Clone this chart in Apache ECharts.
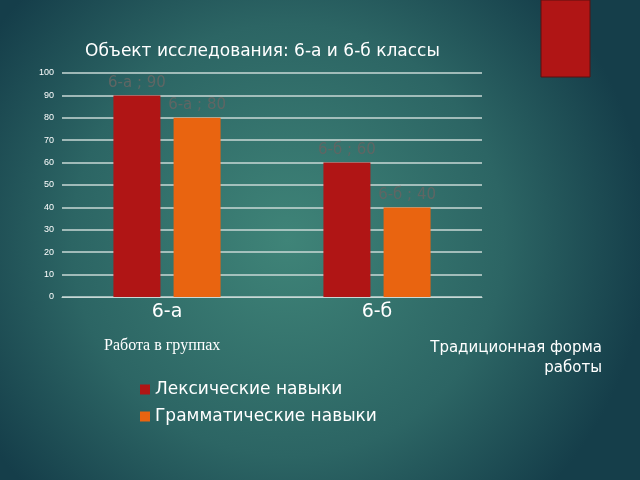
<!DOCTYPE html>
<html>
<head>
<meta charset="utf-8">
<script src="https://cdn.jsdelivr.net/npm/echarts@6/dist/echarts.min.js"></script>
<style>
  html, body { margin: 0; padding: 0; }
  #chart { width: 640px; height: 480px; }
</style>
</head>
<body>
<div id="chart"></div>
<script>
var categories = ['6-а', '6-б'];
var lexical = [90, 60];
var grammar = [80, 40];
var seriesNames = ['Лексические навыки', 'Грамматические навыки'];

var chart = echarts.init(document.getElementById('chart'));

var labelStyle = {
  show: true,
  position: 'top',
  color: '#5f6664',
  fontSize: 15,
  fontFamily: 'DejaVu Sans',
  formatter: function (p) { return p.name + ' ; ' + p.value; }
};

chart.setOption({
  backgroundColor: {
    type: 'radial', x: 0.45, y: 0.5, r: 0.75,
    colorStops: [
      { offset: 0, color: '#3f8478' },
      { offset: 0.6, color: '#2c6564' },
      { offset: 1, color: '#153e4a' }
    ]
  },
  title: {
    text: 'Объект исследования: 6-а и 6-б классы',
    left: 80, top: 38,
    textStyle: { color: '#ffffff', fontSize: 17, fontWeight: 'normal', fontFamily: 'DejaVu Sans' }
  },
  legend: {
    orient: 'vertical',
    left: 135, top: 376,
    itemWidth: 10, itemHeight: 10, itemGap: 10,
    icon: 'rect',
    textStyle: { color: '#ffffff', fontSize: 17, fontFamily: 'DejaVu Sans' },
    data: seriesNames
  },
  grid: { left: 62, right: 158, top: 73, bottom: 183 },
  xAxis: {
    type: 'category',
    data: categories,
    axisLine: { lineStyle: { color: '#c8d8d6', width: 1 } },
    axisTick: { show: false },
    axisLabel: { color: '#ffffff', fontSize: 19, fontFamily: 'DejaVu Sans', margin: 6 }
  },
  yAxis: {
    type: 'value', min: 0, max: 100, interval: 10,
    axisLine: { show: false },
    axisTick: { show: false },
    axisLabel: { color: '#ffffff', fontSize: 9, margin: 8 },
    splitLine: { lineStyle: { color: '#c8d8d6', width: 1.5 } }
  },
  series: [
    {
      name: seriesNames[0], type: 'bar', data: lexical,
      barWidth: 47, barGap: '28%',
      itemStyle: { color: '#b01515' },
      label: labelStyle
    },
    {
      name: seriesNames[1], type: 'bar', data: grammar,
      barWidth: 47,
      itemStyle: { color: '#e96410' },
      label: labelStyle
    }
  ],
  graphic: [
    { type: 'rect', shape: { x: 541, y: 0, width: 49, height: 77 },
      style: { fill: '#b01515', stroke: '#5a1010', lineWidth: 1 } },
    { type: 'text', x: 104, y: 338,
      style: { text: 'Работа в группах', fill: '#ffffff', fontSize: 16, fontFamily: 'Liberation Serif' } },
    { type: 'text', x: 602, y: 338,
      style: { text: 'Традиционная форма\nработы', fill: '#ffffff', fontSize: 15, lineHeight: 20, align: 'right', fontFamily: 'DejaVu Sans' } }
  ]
});
</script>
</body>
</html>
